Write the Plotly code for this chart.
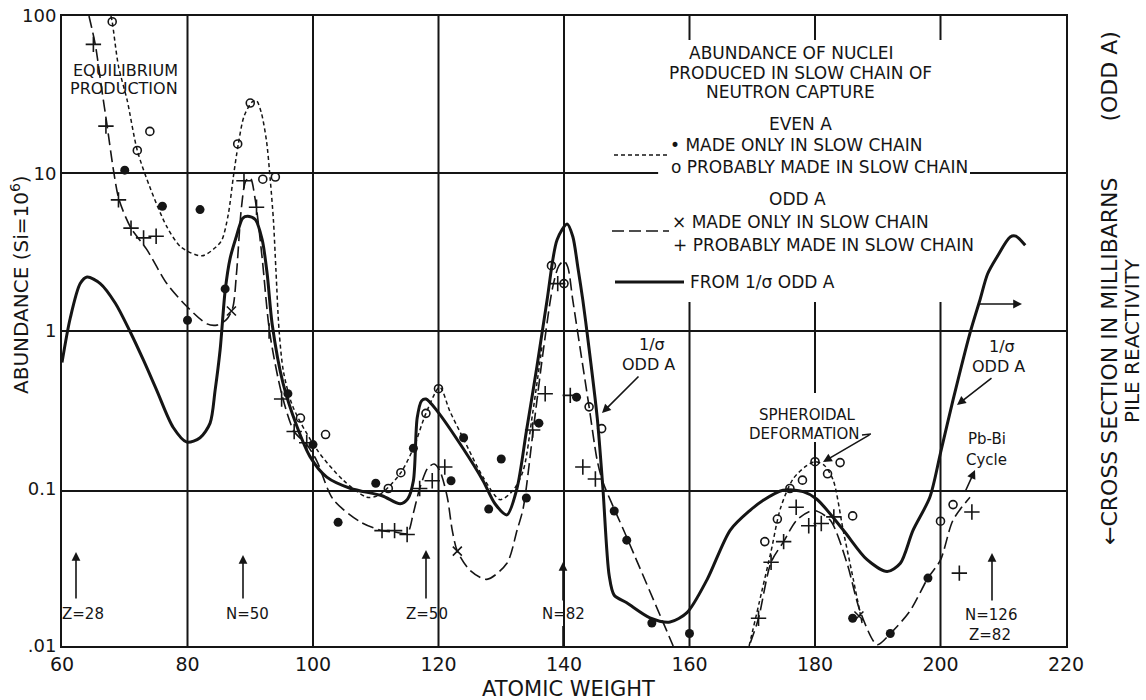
import plotly.graph_objects as go

# ---------------- data ----------------
# Even A, made only in slow chain (filled circles)
even_only_x = [70, 76, 80, 82, 86, 96, 100, 104, 110, 116, 122, 124, 128, 130, 134, 136, 142, 148, 150, 154, 160, 186, 192, 198]
even_only_y = [10.5, 6.2, 1.17, 5.9, 1.85, 0.40, 0.19, 0.061, 0.108, 0.18, 0.112, 0.21, 0.074, 0.154, 0.087, 0.26, 0.38, 0.072, 0.047, 0.014, 0.012, 0.015, 0.012, 0.027]

# Even A, probably made in slow chain (open circles)
even_prob_x = [68, 72, 74, 88, 90, 92, 94, 98, 102, 112, 114, 118, 120, 138, 140, 144, 146, 172, 174, 176, 178, 180, 182, 184, 186, 200, 202]
even_prob_y = [92, 14, 18.5, 15.4, 28, 9.2, 9.5, 0.28, 0.22, 0.10, 0.126, 0.30, 0.43, 2.6, 2.0, 0.33, 0.24, 0.046, 0.064, 0.10, 0.113, 0.148, 0.124, 0.146, 0.067, 0.062, 0.079]

# Odd A, made only in slow chain (x)
odd_only_x = [87, 123, 187]
odd_only_y = [1.34, 0.040, 0.0155]

# Odd A, probably made in slow chain (+)
odd_prob_x = [65, 67, 69, 71, 73, 75, 89, 91, 93, 95, 97, 99, 111, 113, 115, 117, 119, 121, 135, 137, 139, 141, 143, 145,
              171, 173, 175, 177, 179, 181, 183, 203, 205]
odd_prob_y = [66, 20, 6.8, 4.5, 3.9, 4.0, 9.0, 6.1, 1.0, 0.37, 0.23, 0.195, 0.054, 0.054, 0.051, 0.10, 0.112, 0.137, 0.235, 0.40, 2.0, 0.39, 0.137, 0.115,
              0.015, 0.034, 0.046, 0.076, 0.058, 0.060, 0.066, 0.029, 0.071]

# Curve from 1/sigma, odd A (solid)
sigma_x = [60, 61.3, 62.9, 64, 66.1, 68.5, 70.8, 73, 75.1, 77.7, 79.9, 82, 83.6, 84.4, 85.2, 86, 86.8, 87.8, 88.8, 89.6, 90.8, 91.9, 92.7, 93.5,
           95.2, 97.4, 99.5, 102.2, 106, 111, 113.9, 115.1, 116, 116.6, 117.3, 118, 119.8, 123.9, 127.1, 129, 130.9, 132.5, 134, 135.7,
           137.3, 138.9, 140.5, 141.4, 142.2, 143, 143.7, 145.3, 146.2, 147.2, 148, 150, 153.7, 156.9, 159.6, 162.8, 166.5, 169.7,
           171.7, 174.9, 178.1, 180.3, 184.5, 188.3, 191.5, 193.6, 195.6, 198.3, 200, 202, 204.7, 206.3, 207.5, 209, 211.1, 212, 213.5]
sigma_y = [0.63, 1.2, 2.0, 2.2, 2.0, 1.5, 1.0, 0.65, 0.42, 0.245, 0.197, 0.21, 0.26, 0.42, 0.76, 1.8, 2.9, 4.0, 5.2, 5.35, 5.1, 3.8, 2.3, 1.1,
           0.47, 0.25, 0.16, 0.118, 0.10, 0.09, 0.08, 0.086, 0.112, 0.28, 0.36, 0.37, 0.31, 0.18, 0.112, 0.08, 0.068, 0.10, 0.23, 0.6,
           1.57, 3.8, 4.78, 3.98, 2.55, 1.57, 0.96, 0.28, 0.10, 0.028, 0.021, 0.0188, 0.0151, 0.0142, 0.0163, 0.0264, 0.0545, 0.073,
           0.084, 0.0975, 0.0955, 0.0855, 0.0545, 0.0353, 0.0297, 0.0335, 0.054, 0.088, 0.168, 0.365, 0.97, 1.58, 2.3, 2.95, 3.95, 4.0, 3.5]

# Even A curve (short dashes), two pieces
even_a_x = [67.8, 68, 69, 70.4, 72, 74, 76.7, 79, 82.3, 84.5, 85.5, 86.5, 87.3, 88.1, 89, 90.3, 91, 91.8, 92.6, 93.2, 93.7, 94.1, 94.6,
            95.3, 96.8, 100.6, 104.8, 108.6, 110.3, 111.8, 114, 116, 118, 120.2, 121.8, 123.9, 127.1, 129.8, 131.9, 133.5, 135, 136.5]
even_a_y = [100, 92, 48, 29, 14, 8.2, 4.6, 3.4, 3.0, 3.4, 3.8, 5.5, 9.5, 15.4, 23, 28.5, 29, 24, 16, 9, 5, 2.4, 1.0,
            0.55, 0.33, 0.177, 0.113, 0.088, 0.09, 0.10, 0.126, 0.18, 0.30, 0.44, 0.31, 0.21, 0.118, 0.085, 0.0975, 0.13, 0.3, 0.8]
even_b_x = [169.5, 171.5, 173, 174.5, 176.5, 178.5, 180, 181.5, 182.9, 184.5, 186.1, 187.5]
even_b_y = [0.01, 0.022, 0.04, 0.075, 0.115, 0.138, 0.148, 0.14, 0.113, 0.054, 0.0265, 0.014]

# Odd A curve (long dashes), two pieces
odd_a_x = [64.3, 65.3, 66.3, 67.2, 68.2, 69.1, 71, 73.5, 76.7, 79.9, 83.1, 84.7, 86.2, 87.2, 87.8, 88.6, 89.3, 90, 90.8, 91.9, 93.1,
           95, 97, 99, 100.6, 103.2, 107.5, 111, 113, 115, 116, 117, 118.3, 119.3, 120.2, 121.4, 122.2, 123, 125, 127.7, 130.9,
           132.5, 133.5, 135.1, 136.7, 138.2, 139.2, 140, 140.6, 141.4, 143, 144, 145.3, 146.2, 150, 157.4]
odd_a_y = [100, 66, 35, 20, 10.5, 6.8, 4.5, 3.3, 2.0, 1.43, 1.11, 1.09, 1.18, 1.4, 2.3, 6.1, 9.0, 9.4, 6.8, 2.9, 0.98,
           0.40, 0.23, 0.19, 0.15, 0.0855, 0.0615, 0.054, 0.053, 0.052, 0.07, 0.10, 0.135, 0.143, 0.13, 0.088, 0.054, 0.04, 0.0303, 0.0265, 0.0335,
           0.054, 0.075, 0.235, 0.75, 1.9, 2.6, 2.78, 2.55, 1.57, 0.6, 0.33, 0.15, 0.11, 0.049, 0.01]
odd_b_x = [169.7, 171, 173, 175, 177.1, 179.7, 182.4, 185.1, 187.2, 189.9, 192, 195.1, 198, 200, 202, 204.7]
odd_b_y = [0.0105, 0.015, 0.034, 0.046, 0.063, 0.0725, 0.063, 0.0335, 0.0166, 0.0102, 0.012, 0.0166, 0.027, 0.0352, 0.063, 0.088]

x_ticks = [60, 80, 100, 120, 140, 160, 180, 200, 220]
y_ticks = [0.01, 0.1, 1, 10, 100]
y_ticktext = [".01", "0.1", "1", "10", "100"]
y2_ticks = [1, 10, 100, 1000, 10000]
y2_ticktext = ["1", "10", "100", "10<sup>3</sup>", "10<sup>4</sup>"]

# ---------------- figure ----------------
INK = "#151515"
FONT = "DejaVu Sans"
L, R, T, B = 62, 1066, 16, 646


def px(x):
    return (x - L) / (R - L)


def py(y):
    return (B - y) / (B - T)


fig = go.Figure()

dash_short = "4px,3px"
dash_long = "12px,5px"

fig.add_trace(go.Scatter(x=sigma_x, y=sigma_y, mode="lines", line=dict(color=INK, width=3, shape="spline", smoothing=0.8),
                         showlegend=False, hoverinfo="skip"))
for xs, ys in [(even_a_x, even_a_y), (even_b_x, even_b_y)]:
    fig.add_trace(go.Scatter(x=xs, y=ys, mode="lines", line=dict(color=INK, width=1.5, dash=dash_short, shape="spline", smoothing=0.8),
                             showlegend=False, hoverinfo="skip"))
for xs, ys in [(odd_a_x, odd_a_y), (odd_b_x, odd_b_y)]:
    fig.add_trace(go.Scatter(x=xs, y=ys, mode="lines", line=dict(color=INK, width=1.6, dash=dash_long, shape="spline", smoothing=0.8),
                             showlegend=False, hoverinfo="skip"))

fig.add_trace(go.Scatter(x=even_only_x, y=even_only_y, mode="markers",
                         marker=dict(symbol="circle", size=9, color=INK), showlegend=False))
fig.add_trace(go.Scatter(x=even_prob_x, y=even_prob_y, mode="markers",
                         marker=dict(symbol="circle-open", size=8, color=INK, line=dict(width=1.6)), showlegend=False))
fig.add_trace(go.Scatter(x=odd_only_x, y=odd_only_y, mode="markers",
                         marker=dict(symbol="x-thin", size=9, color=INK, line=dict(width=1.6, color=INK)), showlegend=False))
fig.add_trace(go.Scatter(x=odd_prob_x, y=odd_prob_y, mode="markers",
                         marker=dict(symbol="cross-thin", size=11, color=INK, line=dict(width=1.6, color=INK)), showlegend=False))

# ---------------- grid lines (broken where text sits) ----------------
shapes = []
def vline(xv, y0, y1):
    shapes.append(dict(type="line", xref="x", yref="paper", x0=xv, x1=xv, y0=y0, y1=y1,
                       line=dict(color=INK, width=2), layer="below"))
def hline(yv, x0, x1):
    shapes.append(dict(type="line", xref="x", yref="paper", x0=x0, x1=x1, y0=yv, y1=yv,
                       line=dict(color=INK, width=2), layer="below"))

for xv in [80, 100, 120, 140]:
    vline(xv, 0, 1)
for xv in [160, 200]:
    vline(xv, 0, py(302))
    vline(xv, py(40), 1)
vline(180, 0, py(442))
vline(180, py(393), py(302))
vline(180, py(40), 1)

hline(py(331), 60, 220)
hline(py(491), 60, 220)
hline(py(173), 60, 155)
hline(py(173), 204.7, 220)

# legend line samples
def seg(x0, x1, yv, dash, width):
    shapes.append(dict(type="line", xref="paper", yref="paper", x0=px(x0), x1=px(x1), y0=py(yv), y1=py(yv),
                       line=dict(color=INK, width=width, dash=dash)))
seg(614, 668, 155, dash_short, 1.5)
seg(612, 669, 231, dash_long, 1.6)
seg(615, 684, 282, "solid", 3)

# ---------------- annotations ----------------
ann = []
def text(x, y, s, size=17, xanchor="center", angle=0):
    ann.append(dict(xref="paper", yref="paper", x=px(x), y=py(y), text=s, showarrow=False,
                    xanchor=xanchor, yanchor="middle", textangle=angle,
                    font=dict(family=FONT, size=size, color=INK)))
def arrow(hx, hy, tx, ty):
    ann.append(dict(xref="paper", yref="paper", x=px(hx), y=py(hy), ax=tx - hx, ay=ty - hy, text="",
                    showarrow=True, arrowhead=2, arrowsize=1.1, arrowwidth=1.6, arrowcolor=INK))
def line_px(x0, y0, x1, y1, width=1.6):
    shapes.append(dict(type="line", xref="paper", yref="paper", x0=px(x0), x1=px(x1), y0=py(y0), y1=py(y1),
                       line=dict(color=INK, width=width)))

# legend block
text(791, 53, "ABUNDANCE OF NUCLEI")
text(800, 73, "PRODUCED IN SLOW CHAIN OF")
text(790, 92, "NEUTRON CAPTURE")
text(800, 124, "EVEN A")
text(668, 145, "• MADE ONLY IN SLOW CHAIN", xanchor="left")
text(669, 167, "o PROBABLY MADE IN SLOW CHAIN", xanchor="left")
text(797, 199, "ODD A")
text(670, 222, "× MADE ONLY IN SLOW CHAIN", xanchor="left")
text(671, 245, "+ PROBABLY MADE IN SLOW CHAIN", xanchor="left")
text(688, 282, "FROM 1/σ ODD A", xanchor="left")

# other labels
text(125, 70, "EQUILIBRIUM", size=16)
text(124, 88, "PRODUCTION", size=16)
text(83, 614, "Z=28", size=15)
text(247, 614, "N=50", size=15)
text(427, 614, "Z=50", size=15)
text(563, 614, "N=82", size=15)
text(991, 615, "N=126", size=15)
text(990, 635, "Z=82", size=15)
arrow(76, 552, 76, 600)
arrow(243, 555, 243, 600)
arrow(426, 550, 426, 600)
arrow(563, 562, 563, 602)
line_px(563, 626, 563, 646)
arrow(992, 553, 992, 602)

text(652, 345, "1/σ", size=16)
text(648, 364, "ODD A", size=16)
arrow(602, 413, 640, 375)
text(1002, 346, "1/σ", size=16)
text(998, 366, "ODD A", size=16)
arrow(957, 405, 993, 377)
text(807, 415, "SPHEROIDAL", size=15)
text(804, 434, "DEFORMATION", size=15)
line_px(862, 435, 871, 434)
arrow(823, 462, 871, 434)
text(987, 439, "Pb-Bi", size=15)
text(986, 460, "Cycle", size=15)
arrow(975, 470, 965, 492)
arrow(1022, 304, 978, 304)

# axis titles
text(568, 689, "ATOMIC WEIGHT", size=21)
text(20, 285, "ABUNDANCE (Si=10<sup>6</sup>)", size=20, angle=-90)
text(1109, 288, "←CROSS SECTION IN MILLIBARNS        (ODD A)", size=22, angle=-90)
text(1132, 341, "PILE REACTIVITY", size=20, angle=-90)

fig.update_layout(
    width=1146, height=700, autosize=False,
    margin=dict(l=L, r=1146 - R, t=T, b=700 - B, autoexpand=False),
    paper_bgcolor="white", plot_bgcolor="white",
    font=dict(family=FONT, color=INK, size=18),
    shapes=shapes, annotations=ann, showlegend=False,
    xaxis=dict(range=[60, 220], tickvals=x_ticks, showgrid=False, zeroline=False, showline=True, mirror=True, automargin=False,
               linecolor=INK, linewidth=2, ticks="", tickfont=dict(size=19, family=FONT, color=INK)),
    yaxis=dict(type="log", range=[-2, 2], tickvals=y_ticks, ticktext=y_ticktext, showgrid=False, zeroline=False, automargin=False,
               showline=True, mirror=True, linecolor=INK, linewidth=2, ticks="",
               tickfont=dict(size=18, family=FONT, color=INK)),
    yaxis2=dict(type="log", range=[4, 0], overlaying="y", side="right", tickvals=y2_ticks, ticktext=y2_ticktext, automargin=False,
                showgrid=False, zeroline=False, showline=False, ticks="", tickfont=dict(size=18, family=FONT, color=INK)),
)

fig.write_html("out.html", config={"displayModeBar": False}, post_script="document.body.style.margin='0';")
